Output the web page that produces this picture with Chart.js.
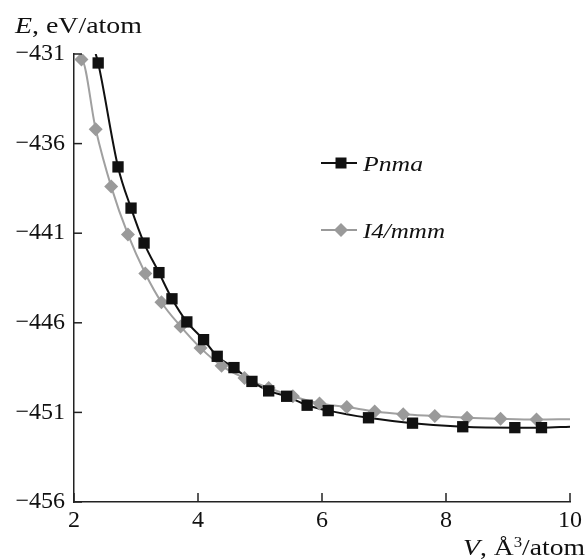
<!DOCTYPE html>
<html>
<head>
<meta charset="utf-8">
<script src="https://cdn.jsdelivr.net/npm/chart.js@4"></script>
<style>
  html, body { margin: 0; padding: 0; background: #fff; }
  #wrap { position: relative; width: 586px; height: 559px; }
  .pre { position: absolute; left: -1000px; top: 0; font-family: 'Liberation Serif'; font-size: 22px; }
</style>
</head>
<body>
<span class="pre">Preload 0123</span><span class="pre" style="font-style:italic">Pnma I4/mmm</span>
<div id="wrap"><canvas id="c"></canvas></div>
<script>
// ---- data ----
const pnmaV = [2.39, 2.71, 2.92, 3.13, 3.37, 3.58, 3.82, 4.09, 4.31, 4.58, 4.87, 5.14, 5.43, 5.76, 6.10, 6.75, 7.46, 8.27, 9.11, 9.54];
const pnmaE = [-431.5, -437.3, -439.6, -441.55, -443.2, -444.66, -445.95, -446.94, -447.87, -448.5, -449.27, -449.8, -450.1, -450.6, -450.9, -451.3, -451.6, -451.8, -451.85, -451.85];
const i4V = [2.12, 2.35, 2.60, 2.87, 3.15, 3.41, 3.72, 4.04, 4.38, 4.75, 5.14, 5.53, 5.96, 6.40, 6.85, 7.31, 7.82, 8.34, 8.88, 9.46];
const i4E = [-431.3, -435.2, -438.4, -441.07, -443.25, -444.85, -446.2, -447.4, -448.4, -449.08, -449.64, -450.1, -450.5, -450.7, -450.95, -451.1, -451.2, -451.3, -451.36, -451.4];
// ends of the fitted curves
const pnmaLineStart = [2.35, -431.0];
const pnmaLineEnd = [10, -451.8];
const i4LineStart = [2.12, -431.3];
const i4LineEnd = [10, -451.38];
const seriesNames = ['Pnma', 'I4/mmm'];
const xTicks = [2, 4, 6, 8, 10];
const yTicks = [-456, -451, -446, -441, -436, -431];

const BLACK = '#111111';
const GRAY = '#9a9a9a';

function pts(xs, ys) { return xs.map((x, i) => ({ x: x, y: ys[i] })); }
function curve(start, xs, ys, end) {
  return [{ x: start[0], y: start[1] }].concat(pts(xs, ys), [{ x: end[0], y: end[1] }]);
}

function drawParts(ctx, parts, x, y, targetW, align) {
  ctx.save();
  let w = 0;
  parts.forEach(p => { ctx.font = p.font; w += ctx.measureText(p.t).width; });
  const sx = targetW / w;
  ctx.translate(align === 'right' ? x - targetW : x, y);
  ctx.scale(sx, 1);
  ctx.fillStyle = BLACK;
  ctx.textBaseline = 'alphabetic';
  ctx.textAlign = 'left';
  let cx = 0;
  parts.forEach(p => {
    ctx.font = p.font;
    ctx.fillText(p.t, cx, p.dy || 0);
    cx += ctx.measureText(p.t).width;
  });
  ctx.restore();
}

const FN = '"Liberation Serif", "Times New Roman", Times, serif';

const decor = {
  id: 'decor',
  afterDraw(chart) {
    const ctx = chart.ctx;
    const xs = chart.scales.x, ys = chart.scales.y;
    const a = chart.chartArea;
    ctx.save();
    ctx.strokeStyle = '#222';
    ctx.lineWidth = 1.5;
    yTicks.forEach(v => {
      const py = ys.getPixelForValue(v);
      ctx.beginPath(); ctx.moveTo(a.left, py); ctx.lineTo(a.left + 8, py); ctx.stroke();
    });
    xTicks.forEach(v => {
      const px = xs.getPixelForValue(v);
      ctx.beginPath(); ctx.moveTo(px, a.bottom); ctx.lineTo(px, a.bottom - 9); ctx.stroke();
    });
    ctx.restore();

    drawParts(ctx, [
      { t: 'E', font: 'italic 23px ' + FN },
      { t: ', eV/atom', font: '23px ' + FN }
    ], 15, 33, 127, 'left');
    drawParts(ctx, [
      { t: 'V', font: 'italic 23px ' + FN },
      { t: ', Å', font: '23px ' + FN },
      { t: '3', font: '14px ' + FN, dy: -8 },
      { t: '/atom', font: '23px ' + FN }
    ], 585, 555, 122, 'right');

    const items = [
      { name: seriesNames[0], color: BLACK, style: 'rect', y: 163, w: 60 },
      { name: seriesNames[1], color: GRAY, style: 'rectRot', y: 230, w: 82 }
    ];
    items.forEach(it => {
      ctx.save();
      ctx.strokeStyle = it.color;
      ctx.lineWidth = 2;
      ctx.beginPath(); ctx.moveTo(321, it.y); ctx.lineTo(357, it.y); ctx.stroke();
      ctx.fillStyle = it.color;
      ctx.beginPath();
      if (it.style === 'rect') {
        ctx.rect(341 - 5.5, it.y - 5.5, 11, 11);
      } else {
        ctx.moveTo(341 - 7, it.y); ctx.lineTo(341, it.y - 7); ctx.lineTo(341 + 7, it.y); ctx.lineTo(341, it.y + 7); ctx.closePath();
      }
      ctx.fill();
      ctx.restore();
      drawParts(ctx, [{ t: it.name, font: 'italic 22px ' + FN }], 363, it.y + 8, it.w, 'left');
    });
  }
};

function build() {
  new Chart(document.getElementById('c'), {
    type: 'scatter',
    data: {
      datasets: [
        { label: seriesNames[0], data: pts(pnmaV, pnmaE), showLine: false, pointStyle: 'rect', pointRadius: 8, pointHoverRadius: 8,
          backgroundColor: BLACK, borderColor: BLACK, borderWidth: 0, order: 0 },
        { label: seriesNames[1], data: pts(i4V, i4E), showLine: false, pointStyle: 'rectRot', pointRadius: 7, pointHoverRadius: 7,
          backgroundColor: GRAY, borderColor: GRAY, borderWidth: 0, order: 1 },
        { label: seriesNames[0] + ' fit', data: curve(pnmaLineStart, pnmaV, pnmaE, pnmaLineEnd), showLine: true, pointRadius: 0,
          borderColor: BLACK, borderWidth: 2, cubicInterpolationMode: 'monotone', fill: false, order: 2 },
        { label: seriesNames[1] + ' fit', data: curve(i4LineStart, i4V, i4E, i4LineEnd), showLine: true, pointRadius: 0,
          borderColor: '#a0a0a0', borderWidth: 2, cubicInterpolationMode: 'monotone', fill: false, order: 3 }
      ]
    },
    options: {
      responsive: true,
      maintainAspectRatio: false,
      animation: false,
      events: [],
      layout: { padding: { top: 54, right: 14, left: 0, bottom: 0 } },
      plugins: { legend: { display: false }, tooltip: { enabled: false } },
      scales: {
        x: {
          type: 'linear', min: 2, max: 10,
          afterBuildTicks: s => { s.ticks = xTicks.map(v => ({ value: v })); },
          afterFit: s => { s.height = 57; },
          grid: { display: false, drawTicks: false },
          border: { display: true, color: '#222', width: 1.5 },
          ticks: { autoSkip: false, maxRotation: 0, padding: 4, color: BLACK, font: { family: FN, size: 24 } }
        },
        y: {
          type: 'linear', min: -456, max: -431,
          afterBuildTicks: s => { s.ticks = yTicks.map(v => ({ value: v })); },
          afterFit: s => { s.width = 74; },
          grid: { display: false, drawTicks: false },
          border: { display: true, color: '#222', width: 1.5 },
          ticks: { autoSkip: false, padding: 9, color: BLACK, font: { family: FN, size: 24 },
            callback: v => (v < 0 ? '\u2212' : '') + Math.abs(v) }
        }
      }
    },
    plugins: [decor]
  });
}

Promise.all([
  document.fonts.load('22px "Liberation Serif"'),
  document.fonts.load('italic 22px "Liberation Serif"'),
  document.fonts.load('14px "Liberation Serif"')
]).then(build, build);
</script>
</body>
</html>
